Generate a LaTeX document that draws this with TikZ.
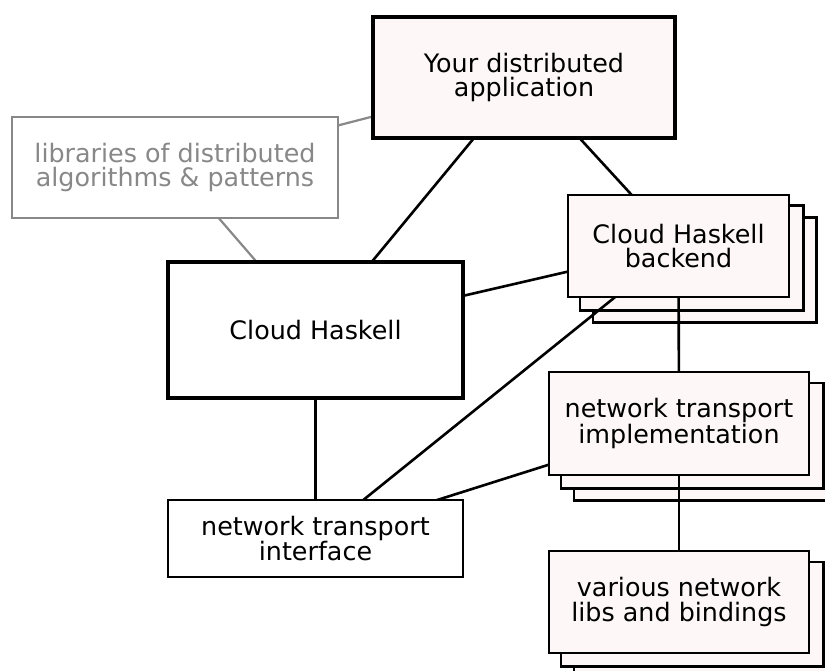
\documentclass[tikz,border=0pt]{standalone}
\usepackage{fontspec}
\setmainfont{DejaVu Sans}
\pgfdeclarelayer{shadow}
\pgfdeclarelayer{edges}
\pgfsetlayers{shadow,edges,main}
\definecolor{pinkfill}{RGB}{253,248,247}
\definecolor{libgray}{RGB}{136,136,136}
\tikzset{
  box/.style={draw=black, line width=2.5pt, fill=pinkfill, align=center, inner sep=0pt,
    font=\fontsize{25.4}{24.5}\selectfont},
  thickbox/.style={box, line width=3.9pt},
  whitebox/.style={box, fill=white},
  libbox/.style={box, fill=white, draw=libgray, text=libgray, line width=2.2pt},
  shadowbox/.style={draw=black, line width=2.5pt, fill=pinkfill},
  link/.style={draw=black, line width=2.6pt},
  glink/.style={draw=libgray, line width=2.2pt},
}
\begin{document}
\begin{tikzpicture}[x=1pt,y=-1pt]
\useasboundingbox (0,0) rectangle (825,671);
% nodes
\node[thickbox, minimum width=302pt, minimum height=121pt] (app) at (524,77.5) {Your distributed\\application};
\node[libbox, minimum width=326pt, minimum height=101pt] (lib) at (175,167.5) {libraries of distributed\\algorithms \& patterns};
\node[thickbox, fill=white, minimum width=295pt, minimum height=136pt] (ch) at (315.5,330) {Cloud Haskell};
\node[box, minimum width=221pt, minimum height=102pt] (be) at (678.5,246) {Cloud Haskell\\backend};
\node[box, minimum width=260pt, minimum height=103pt] (impl) at (679,423.5) {network transport\\implementation};
\node[box, minimum width=260pt, minimum height=102pt] (var) at (679,602) {various network\\libs and bindings};
\node[whitebox, line width=2.2pt, minimum width=295pt, minimum height=77pt] (ifc) at (315.5,538.5) {network transport\\interface};
% stacked copies
\begin{pgfonlayer}{shadow}
\foreach \n in {be,impl,var}{
  \foreach \k in {2,1}{
    \draw[shadowbox] ([shift={(13*\k,12*\k)}]\n.south west) rectangle ([shift={(13*\k,12*\k)}]\n.north east);
  }
}
\end{pgfonlayer}
% connectors
\begin{pgfonlayer}{edges}
\draw[glink] (lib.center) -- (app.center);
\draw[glink] (lib.center) -- (ch.center);
\draw[link] (app.center) -- (ch.center);
\draw[link] (app.center) -- (be.center);
\draw[link] (ch.center) -- (be.center);
\draw[link] (ch.center) -- (ifc.center);
\draw[link] (ifc.center) -- (be.center);
\draw[link] (ifc.center) -- (impl.center);
\draw[link] (be.center) -- (impl.center);
\draw[link] (impl.center) -- (var.center);
\end{pgfonlayer}
\end{tikzpicture}
\end{document}
